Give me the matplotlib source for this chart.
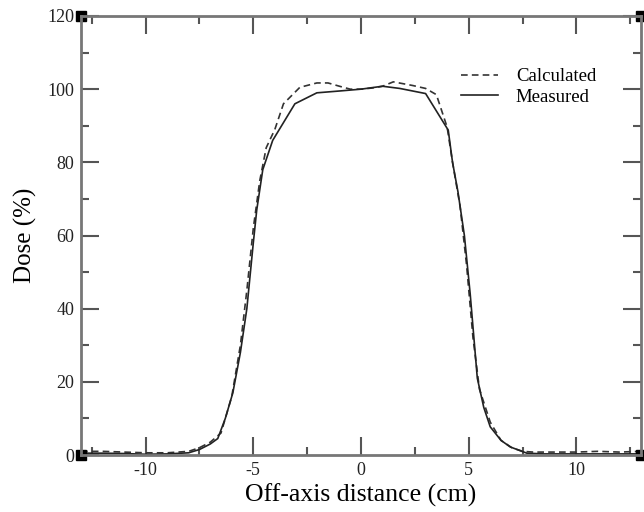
import matplotlib.pyplot as plt
from matplotlib.ticker import MultipleLocator

plt.rcParams['font.family'] = ['Liberation Serif', 'DejaVu Serif']
plt.rcParams['axes.unicode_minus'] = False

# measured profile
meas_x = [-13, -12, -11, -10, -9, -8, -7.5, -7, -6.65, -6.3, -5.95, -5.6, -5.3, -5.0, -4.84,
          -4.56, -4.1, -3.07, -2.05, -1, 0, 1, 1.8, 3.0, 4.05, 4.25, 4.5, 4.8, 5.07, 5.4, 5.7,
          6.0, 6.5, 6.93, 7.7, 8.5, 10, 11, 12, 13]
meas_y = [0.5, 0.5, 0.4, 0.2, 0.3, 0.6, 1.5, 3, 4.5, 10, 17, 28, 40, 58, 67,
          78, 86, 96, 99, 99.5, 100, 100.8, 100.2, 98.8, 88.8, 80, 72, 60, 44, 21, 13,
          7.7, 4, 2.2, 0.5, 0.3, 0.3, 0.3, 0.3, 0.3]

# calculated profile
calc_x = [-13, -12, -11, -10, -9, -8, -7.5, -7, -6.5, -6, -5.6, -5.3, -5, -4.7, -4.4, -4,
          -3.6, -2.84, -2.05, -1.53, -1, -0.5, 0, 0.5, 1, 1.5, 2.4, 3, 3.5, 4, 4.25, 4.6,
          4.9, 5.2, 5.5, 6, 6.5, 7, 7.5, 8, 9, 10, 11, 12, 13]
calc_y = [1, 1, 0.8, 0.6, 0.6, 1, 2, 3.5, 6, 16, 30, 45, 62, 75, 84, 89,
          96, 100.5, 101.7, 101.7, 100.8, 100, 100, 100.3, 100.8, 102, 101, 100.2, 98.5, 89.6, 80, 68,
          52, 32, 18, 9, 4, 2, 1, 0.8, 0.8, 0.8, 1, 0.8, 1]

fig = plt.figure(figsize=(6.44, 5.12), dpi=100)
ax = fig.add_axes([81/644, 1-455/512, 560/644, 439/512])

ax.plot(calc_x, calc_y, color='#333333', lw=1.2, ls=(0, (4, 2.5)), label='Calculated')
ax.plot(meas_x, meas_y, color='#222222', lw=1.2, label='Measured')

ax.set_xlim(-13, 13)
ax.set_ylim(0, 120)
ax.xaxis.set_major_locator(MultipleLocator(5))
ax.xaxis.set_minor_locator(MultipleLocator(2.5))
ax.yaxis.set_major_locator(MultipleLocator(20))
ax.yaxis.set_minor_locator(MultipleLocator(10))
ax.tick_params(which='both', direction='in', top=True, right=True, color='#555555', width=1.5)
ax.tick_params(which='major', length=13, labelsize=13, pad=5, labelcolor='#222222')
ax.tick_params(which='minor', length=6)
for s in ax.spines.values():
    s.set_color('#777777')
    s.set_linewidth(2)

# corner squares
ax.plot([-13, 13, -13, 13], [0, 0, 120, 120], 's', color='black', ms=7, ls='none', clip_on=False)

ax.set_xlabel('Off-axis distance (cm)', fontsize=18.5, labelpad=3)
ax.set_ylabel('Dose (%)', fontsize=18, labelpad=7)

ax.legend(loc='upper right', bbox_to_anchor=(0.95, 0.92), frameon=False, fontsize=13.5,
          handlelength=2.0, handletextpad=0.95, labelspacing=0.2)

fig.savefig('out.png', dpi=100)
